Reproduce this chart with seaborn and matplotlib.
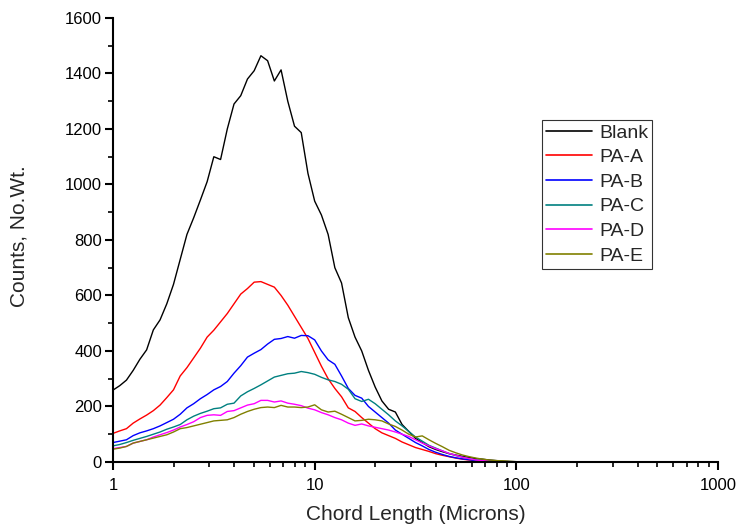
import matplotlib
matplotlib.use("Agg")
import matplotlib.pyplot as plt
import matplotlib.ticker as mticker
import seaborn as sns
import pandas as pd

# Chord length channels (microns)
chord = [1.000, 1.080, 1.166, 1.259, 1.359, 1.468, 1.585, 1.711, 1.848, 1.995,
         2.154, 2.326, 2.512, 2.712, 2.929, 3.162, 3.415, 3.687, 3.981, 4.299,
         4.642, 5.012, 5.412, 5.843, 6.310, 6.813, 7.356, 7.943, 8.577, 9.261,
         10.00, 10.80, 11.66, 12.59, 13.59, 14.68, 15.85, 17.11, 18.48, 19.95,
         21.54, 23.26, 25.12, 27.12, 29.29, 31.62, 34.15, 36.87, 39.81, 42.99,
         46.42, 50.12, 54.12, 58.43, 63.10, 68.13, 73.56, 79.43, 85.77, 92.61,
         100.0, 150.0, 250.0, 400.0, 630.0, 1000.0]

blank = [259, 275, 295, 330, 370, 404, 476, 512, 570, 640,
         730, 820, 880, 944, 1010, 1100, 1090, 1200, 1290, 1320,
         1380, 1410, 1464, 1446, 1373, 1413, 1300, 1210, 1187, 1040,
         940, 890, 820, 700, 645, 520, 450, 400, 330, 270,
         220, 190, 180, 135, 110, 85, 70, 55, 45, 37,
         30, 25, 20, 16, 12, 10, 7, 5, 3, 2,
         1, 0, 0, 0, 0, 0]
pa_a = [103, 112, 120, 140, 155, 169, 185, 205, 232, 260,
        310, 340, 375, 410, 450, 475, 505, 535, 570, 605,
        625, 648, 650, 640, 630, 600, 565, 525, 485, 445,
        395, 345, 300, 265, 235, 195, 182, 160, 140, 120,
        105, 95, 85, 72, 62, 52, 45, 38, 30, 24,
        19, 14, 10, 7, 5, 3, 2, 1, 1, 0,
        0, 0, 0, 0, 0, 0]
pa_b = [70, 75, 80, 95, 105, 112, 120, 130, 142, 154,
        172, 195, 210, 228, 243, 260, 272, 290, 320, 347,
        378, 392, 405, 425, 442, 445, 452, 446, 456, 455,
        440, 400, 368, 352, 310, 265, 240, 230, 200, 180,
        160, 140, 115, 100, 85, 70, 58, 45, 35, 27,
        20, 15, 11, 8, 5, 4, 3, 2, 1, 1,
        0, 0, 0, 0, 0, 0]
pa_c = [58, 63, 70, 78, 85, 92, 100, 108, 118, 126,
        135, 152, 165, 175, 183, 192, 195, 208, 212, 238,
        253, 265, 278, 292, 306, 312, 318, 320, 326, 322,
        316, 305, 296, 290, 280, 262, 228, 218, 226, 210,
        190, 170, 148, 130, 110, 90, 75, 60, 50, 40,
        30, 23, 17, 12, 8, 5, 3, 2, 1, 1,
        0, 0, 0, 0, 0, 0]
pa_d = [48, 52, 56, 68, 74, 80, 90, 98, 106, 115,
        126, 135, 145, 160, 168, 170, 168, 182, 185, 195,
        205, 210, 222, 222, 216, 220, 212, 208, 203, 194,
        188, 178, 170, 160, 152, 140, 132, 137, 130, 125,
        120, 115, 108, 100, 92, 80, 68, 58, 48, 40,
        31, 24, 17, 12, 7, 5, 3, 2, 1, 1,
        0, 0, 0, 0, 0, 0]
pa_e = [46, 50, 56, 68, 74, 80, 86, 92, 98, 108,
        120, 124, 130, 136, 142, 148, 150, 152, 160, 172,
        182, 190, 196, 198, 196, 204, 198, 198, 196, 198,
        206, 188, 180, 183, 172, 160, 148, 150, 154, 152,
        148, 137, 128, 115, 100, 90, 94, 80, 67, 55,
        42, 33, 25, 19, 14, 10, 7, 5, 4, 2,
        1, 0, 0, 0, 0, 0]

series_names = ["Blank", "PA-A", "PA-B", "PA-C", "PA-D", "PA-E"]
series_values = [blank, pa_a, pa_b, pa_c, pa_d, pa_e]
colors = ["#000000", "#ff0000", "#0000ff", "#008080", "#ff00ff", "#808000"]

rows = []
for name, vals in zip(series_names, series_values):
    for xv, yv in zip(chord, vals):
        rows.append({"x": xv, "y": yv, "series": name})
df = pd.DataFrame(rows)

sns.set_style("ticks")
plt.rcParams["font.family"] = ["Liberation Sans", "DejaVu Sans"]

fig = plt.figure(figsize=(7.41, 5.29), dpi=100)
ax = fig.add_axes([0.1525, 0.1267, 0.8165, 0.8393])

sns.lineplot(data=df, x="x", y="y", hue="series", hue_order=series_names,
             palette=colors, estimator=None, sort=False, linewidth=1.0, ax=ax)

ax.set_xscale("log")
ax.set_xlim(1, 1000)
ax.set_ylim(0, 1600)
ax.xaxis.set_major_locator(mticker.FixedLocator([1, 10, 100, 1000]))
ax.xaxis.set_major_formatter(mticker.FixedFormatter(["1", "10", "100", "1000"]))
ax.xaxis.set_minor_locator(mticker.LogLocator(base=10, subs=range(2, 10)))
ax.xaxis.set_minor_formatter(mticker.NullFormatter())
ax.yaxis.set_major_locator(mticker.MultipleLocator(200))
ax.yaxis.set_minor_locator(mticker.MultipleLocator(100))

for s in ["top", "right"]:
    ax.spines[s].set_visible(False)
for s in ["left", "bottom"]:
    ax.spines[s].set_linewidth(1.5)
    ax.spines[s].set_color("black")

ax.tick_params(axis="both", which="major", direction="out", length=6, width=1.5,
               labelsize=12, colors="black")
ax.tick_params(axis="y", which="major", pad=2)
ax.tick_params(axis="x", which="major", pad=5.5)
ax.tick_params(axis="both", which="minor", direction="out", length=3.5, width=1.2,
               colors="black")

ax.set_xlabel("Chord Length (Microns)", fontsize=15, labelpad=8.5)
ax.set_ylabel("Counts, No.Wt.", fontsize=15)
ax.yaxis.set_label_coords(-0.140, 0.509)

leg = ax.legend(loc="upper left", bbox_to_anchor=(0.7086, 0.770), frameon=True,
                fancybox=False, edgecolor="black", fontsize=14, handlelength=2.4,
                labelspacing=0.36, borderpad=0.2, handletextpad=0.35,
                borderaxespad=0)
leg.get_frame().set_linewidth(0.8)
for line in leg.get_lines():
    line.set_linewidth(1.2)

fig.savefig("out.png", dpi=100)
